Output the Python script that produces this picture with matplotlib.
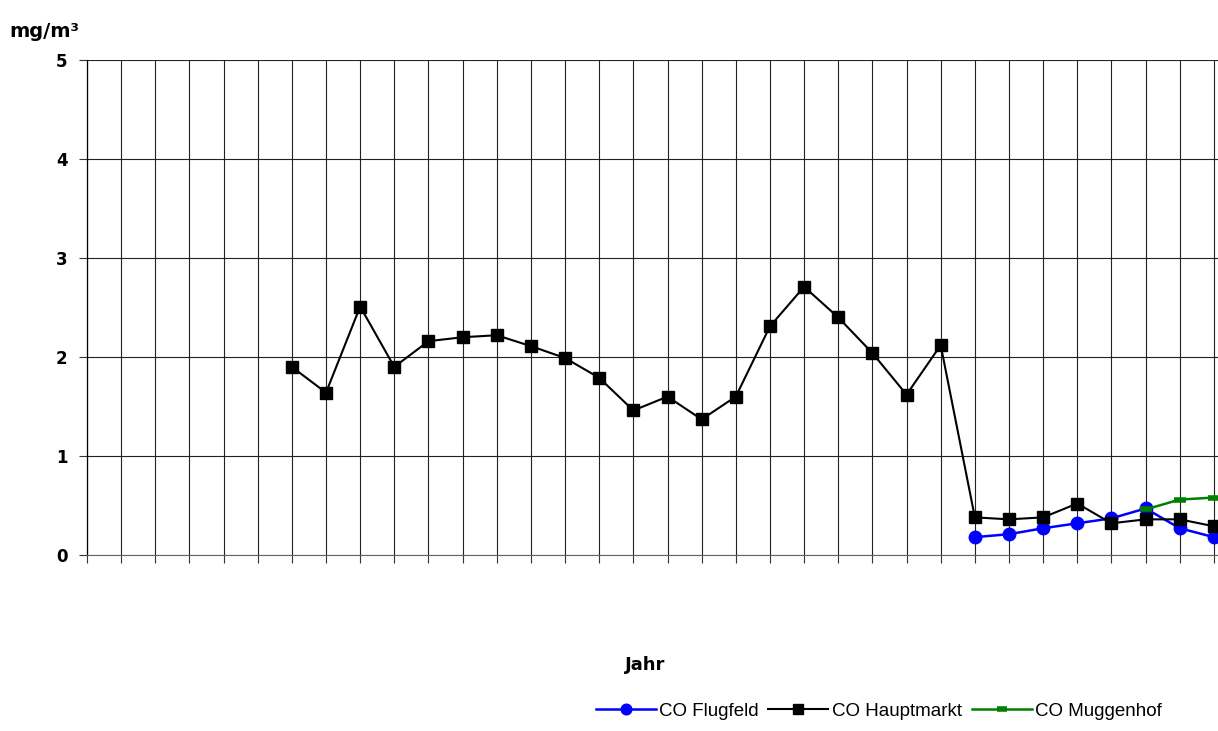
import matplotlib.pyplot as plt
from matplotlib import font_manager

# year slots on the x axis (no labels shown in the original)
slots = list(range(34))

# CO Hauptmarkt, slots 6..33
haupt_x = list(range(6, 34))
haupt_y = [1.90, 1.64, 2.51, 1.90, 2.16, 2.20, 2.22, 2.11, 1.99, 1.79,
           1.46, 1.60, 1.37, 1.60, 2.31, 2.71, 2.40, 2.04, 1.62, 2.12,
           0.38, 0.36, 0.38, 0.52, 0.32, 0.36, 0.36, 0.29]

# CO Flugfeld, slots 26..33
flug_x = list(range(26, 34))
flug_y = [0.18, 0.21, 0.27, 0.32, 0.37, 0.47, 0.27, 0.18]

# CO Muggenhof, slots 31..33
mugg_x = [31, 32, 33]
mugg_y = [0.46, 0.56, 0.58]

y_ticks = [0, 1, 2, 3, 4, 5]

plt.rcParams['font.family'] = ['DejaVu Sans']

# narrow font for the legend if there is one
names = set(f.name for f in font_manager.fontManager.ttflist)
leg_font = 'Liberation Sans Narrow' if 'Liberation Sans Narrow' in names else 'Liberation Sans'

fig = plt.figure(figsize=(12.18, 7.31), dpi=100)
ax = fig.add_axes([0.0714, 0.2408, 0.9286, 0.677])

ax.set_xlim(0, 33.12)
ax.set_ylim(0, 5)
ax.set_xticks(slots)
ax.set_xticklabels([])
ax.set_yticks(y_ticks)
ax.set_yticklabels([str(v) for v in y_ticks], fontsize=12, fontweight='bold')
ax.tick_params(axis='x', direction='out', length=6, width=0.8, color='#333333')
ax.tick_params(axis='y', direction='out', length=6, width=0.8, color='#333333', pad=8)

ax.grid(True, color='#222222', linewidth=0.8)
ax.set_axisbelow(True)
for side in ['top', 'right']:
    ax.spines[side].set_visible(False)
ax.spines['left'].set_linewidth(0.9)
ax.spines['bottom'].set_color('#666666')

ax.plot(flug_x, flug_y, color='#0000ff', lw=1.8, marker='o', ms=9,
        label='CO Flugfeld', clip_on=False, zorder=3)
ax.plot(haupt_x, haupt_y, color='black', lw=1.5, marker='s', ms=9,
        label='CO Hauptmarkt', clip_on=False, zorder=4)
ax.plot(mugg_x, mugg_y, color='#008000', lw=1.8, marker='_', ms=9, mew=4,
        label='CO Muggenhof', clip_on=False, zorder=5)

fig.text(0.008, 0.957, 'mg/m³', fontsize=14, fontweight='bold', va='center')
fig.text(0.53, 0.09, 'Jahr', fontsize=13, fontweight='bold', ha='center', va='center')

leg = fig.legend(loc='lower right', bbox_to_anchor=(0.968, -0.008), ncol=3,
                 frameon=False, handlelength=3.2, handletextpad=0.2,
                 columnspacing=0.5, markerscale=0.85,
                 prop={'family': leg_font, 'size': 13.5})

fig.savefig('out.png', dpi=100)
